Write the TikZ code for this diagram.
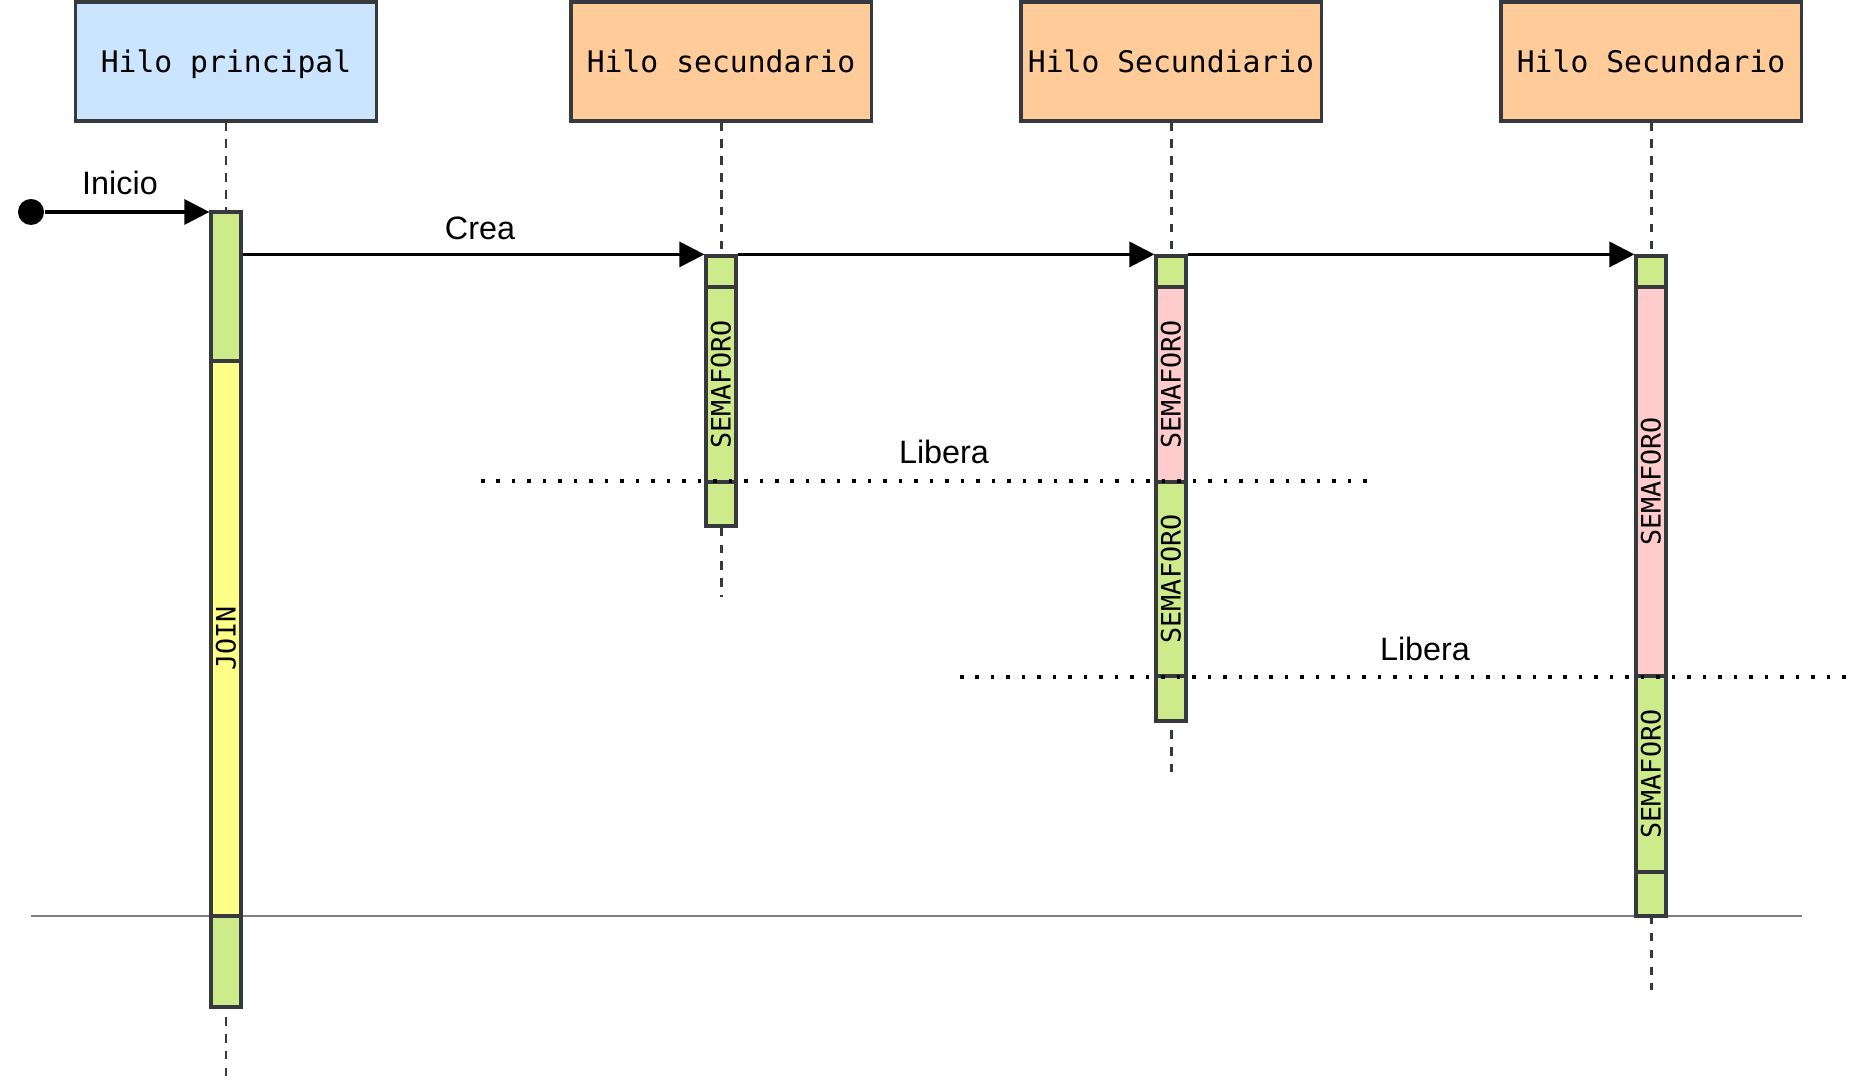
\documentclass[tikz,border=0pt]{standalone}
\usepackage{fontspec}
\setmainfont{Liberation Sans}
\setsansfont{Liberation Sans}
\setmonofont{DejaVu Sans Mono}
\usepackage{graphicx}
\usepackage{tikz}
\usetikzlibrary{positioning, arrows.meta}

\definecolor{edgegray}{HTML}{36393D}
\definecolor{mainblue}{HTML}{CCE5FF}
\definecolor{threadorange}{HTML}{FFCC99}
\definecolor{runGreen}{HTML}{CDEB8B}
\definecolor{waitPink}{HTML}{FFCCCC}
\definecolor{joinYellow}{HTML}{FFFF88}

% one piece of an activation bar: name, x, top, bottom, fill, text
\newcommand{\barseg}[6]{%
  \node[segbox, fill=#5, minimum height={(#4-#3)*0.01cm}] (#1) at (#2,{(#3+#4)/2}) {#6};}

\begin{document}
\begin{tikzpicture}[
    x=0.01cm, y=-0.01cm,
    >=Stealth,
    thread/.style={
        rectangle,
        draw=edgegray,
        line width=0.9pt,
        minimum width=3cm,
        minimum height=1.19cm,
        inner xsep=1pt,
        text height=0.6em,
        text depth=0pt,
        font=\ttfamily\fontsize{8.45}{10}\selectfont
    },
    segbox/.style={
        rectangle,
        draw=edgegray,
        line width=0.9pt,
        minimum width=0.3cm,
        inner sep=0pt,
        font=\ttfamily\fontsize{7.6}{9}\selectfont
    },
    lifeline/.style={draw=edgegray, line width=0.85pt, dash pattern=on 2.4pt off 2.4pt},
    msg/.style={-{Triangle[length=0.25cm, width=0.25cm]}, line width=0.9pt},
    release/.style={line width=1pt, dash pattern=on 1pt off 3.4pt},
    lbl/.style={font=\sffamily\fontsize{9.2}{11}\selectfont}
]
\useasboundingbox (0,0) rectangle (1866,1083);

% Thread headers
\node[thread, fill=mainblue] (main) at (226,61.5) {Hilo principal};
\node[thread, fill=threadorange] (sec1) at (721,61.5) {Hilo secundario};
\node[thread, fill=threadorange] (sec2) at (1171,61.5) {Hilo Secundiario};
\node[thread, fill=threadorange] (sec3) at (1651,61.5) {Hilo Secundario};

% Lifeline ends
\coordinate (endmain) at (226,1081);
\coordinate (endsec1) at (721,597);
\coordinate (endsec2) at (1171,780);
\coordinate (endsec3) at (1651,990);

% Lifelines (behind the bars)
\draw[lifeline] (main.south) -- (endmain);
\draw[lifeline] (sec1.south) -- (endsec1);
\draw[lifeline] (sec2.south) -- (endsec2);
\draw[lifeline] (sec3.south) -- (endsec3);

% Join line
\coordinate (joinleft) at (31,916);
\coordinate (joinright) at (1802,916);
\draw[gray, line width=0.6pt] (joinleft) -- (joinright);

% Activation bars
\barseg{b1a}{226}{212}{361}{runGreen}{}
\barseg{b1b}{226}{361}{916}{joinYellow}{\rotatebox{90}{JOIN}}
\barseg{b1c}{226}{916}{1007}{runGreen}{}

\barseg{b2a}{721}{256}{287}{runGreen}{}
\barseg{b2b}{721}{287}{482}{runGreen}{\rotatebox{90}{SEMAFORO}}
\barseg{b2c}{721}{482}{526}{runGreen}{}

\barseg{b3a}{1171}{256}{287}{runGreen}{}
\barseg{b3b}{1171}{287}{482}{waitPink}{\rotatebox{90}{SEMAFORO}}
\barseg{b3c}{1171}{482}{676}{runGreen}{\rotatebox{90}{SEMAFORO}}
\barseg{b3d}{1171}{676}{721}{runGreen}{}

\barseg{b4a}{1651}{256}{287}{runGreen}{}
\barseg{b4b}{1651}{287}{676}{waitPink}{\rotatebox{90}{SEMAFORO}}
\barseg{b4c}{1651}{676}{872}{runGreen}{\rotatebox{90}{SEMAFORO}}
\barseg{b4d}{1651}{872}{916}{runGreen}{}

% Start
\node[circle, fill=black, minimum size=0.26cm, inner sep=0pt] (start) at (31,212) {};
\draw[msg] (start) -- (start -| b1a.west);
\node[lbl] (inicio) at (120,183) {Inicio};

% Messages
\draw[msg] (b1a.east |- b2a.north) -- (b2a.north west);
\node[lbl] (crea) at (480,228) {Crea};
\draw[msg] (b2a.north east) -- (b3a.north west);
\draw[msg] (b3a.north east) -- (b4a.north west);

% Releases
\coordinate (rel1a) at (481,481);
\coordinate (rel1b) at (1371,481);
\draw[release] (rel1a) -- (rel1b);
\node[lbl] (libera1) at (944,452) {Libera};

\coordinate (rel2a) at (960,677);
\coordinate (rel2b) at (1852,677);
\draw[release] (rel2a) -- (rel2b);
\node[lbl] (libera2) at (1425,649) {Libera};

\end{tikzpicture}
\end{document}
